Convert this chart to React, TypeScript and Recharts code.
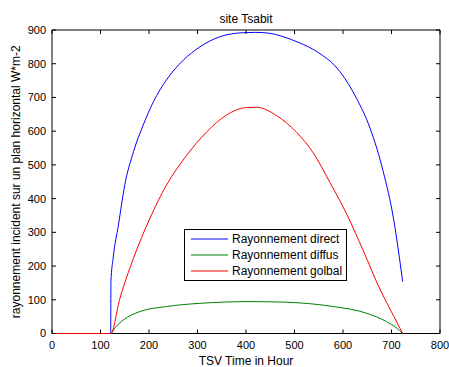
import React from 'react';
import { LineChart, Line, XAxis, YAxis, Legend, Label, ReferenceArea } from 'recharts';

const seriesNames = ['Rayonnement direct', 'Rayonnement diffus', 'Rayonnement golbal'];
const seriesColors = ['#0000ff', '#008000', '#ff0000'];

const directHours = [0, 121, 121.5, 126, 137, 150, 168, 188, 209, 236, 271, 305, 346, 394, 420, 450, 477, 510, 546, 594, 628, 656, 683, 704, 723];
const directValues = [0, 0, 154, 223, 322, 440, 539, 618, 687, 752, 811, 850, 880, 892, 893, 890, 880, 862, 836, 776, 697, 608, 480, 342, 154];

const diffuseHours = [0, 121, 130, 147, 181, 236, 305, 408, 477, 580, 649, 690, 710, 723];
const diffuseValues = [0, 0, 17, 40, 65, 80, 89.5, 94.5, 93, 80, 60, 35, 17, 0];

const globalHours = [0, 121, 140, 168, 202, 236, 278, 319, 360, 401, 422, 463, 504, 539, 573, 608, 642, 676, 690, 704, 723];
const globalValues = [0, 0, 104, 223, 342, 440, 529, 598, 648, 670, 671, 646, 597, 535, 448, 353, 245, 132, 92, 53, 0];

const xTicks = [0, 100, 200, 300, 400, 500, 600, 700, 800];
const yTicks = [0, 100, 200, 300, 400, 500, 600, 700, 800, 900];

const titleText = 'site Tsabit';
const xLabelText = 'TSV Time in Hour';
const yLabelText = 'rayonnement incident sur un plan horizontal W*m-2';

const toRows = (hours: number[], values: number[]) => hours.map((h, i) => ({ h, v: values[i] }));

const FONT = '"Liberation Sans", Arial, Helvetica, sans-serif';
const PLOT_W = 388;
const PLOT_H = 303.5;

const BottomTick = (props: any) => {
  const { x, y, payload } = props;
  return (
    <g>
      <line x1={x} x2={x} y1={y} y2={y - 4} stroke="#000" />
      <line x1={x} x2={x} y1={y - PLOT_H} y2={y - PLOT_H + 4} stroke="#000" />
      <text x={x} y={y + 8} dy="0.71em" textAnchor="middle" fontSize={11} fill="#000">
        {payload.value}
      </text>
    </g>
  );
};

const LeftTick = (props: any) => {
  const { x, y, payload } = props;
  return (
    <g>
      <line x1={x} x2={x + 4} y1={y} y2={y} stroke="#000" />
      <line x1={x + PLOT_W - 4} x2={x + PLOT_W} y1={y} y2={y} stroke="#000" />
      <text x={x - 6} y={y} dy="0.355em" textAnchor="end" fontSize={11} fill="#000">
        {payload.value}
      </text>
    </g>
  );
};

const LegendBox = (props: any) => {
  const payload = [...(props.payload || [])].sort(
    (a: any, b: any) => seriesNames.indexOf(a.value) - seriesNames.indexOf(b.value)
  );
  return (
    <div
      style={{
        boxSizing: 'border-box',
        width: 163,
        height: 52,
        border: '1px solid #000',
        background: '#fff',
        paddingTop: 1,
        fontFamily: FONT,
        fontSize: 12,
        color: '#000',
      }}
    >
      {payload.map((item: any) => (
        <div key={item.value} style={{ display: 'flex', alignItems: 'center', height: 16 }}>
          <svg width={47} height={16} style={{ display: 'block' }}>
            <line x1={6} x2={43} y1={8} y2={8} stroke={item.color} strokeWidth={1} />
          </svg>
          <span style={{ whiteSpace: 'nowrap', lineHeight: '16px' }}>{item.value}</span>
        </div>
      ))}
    </div>
  );
};

export default function App() {
  return (
    <div style={{ fontFamily: FONT, width: 449, height: 367, overflow: 'hidden' }}>
      <style>{'html, body { margin: 0; padding: 0; }'}</style>
      <LineChart width={449} height={367} margin={{ top: 30, right: 9, bottom: 0, left: 8 }}>
        <ReferenceArea
          x1={0}
          x2={800}
          y1={0}
          y2={900}
          fill="none"
          fillOpacity={0}
          stroke="#000"
          strokeWidth={1}
          strokeOpacity={1}
          ifOverflow="visible"
          zIndex={0}
          label={{ value: titleText, position: 'top', offset: 7, fill: '#000', fontSize: 12 }}
        />
        <XAxis
          dataKey="h"
          type="number"
          domain={[0, 800]}
          ticks={xTicks}
          interval={0}
          height={33.5}
          axisLine={false}
          tickLine={false}
          tickSize={0}
          tickMargin={0}
          tick={<BottomTick />}
        >
          <Label value={xLabelText} position="insideBottom" offset={2} style={{ fill: '#000', fontSize: 12 }} />
        </XAxis>
        <YAxis
          type="number"
          domain={[0, 900]}
          ticks={yTicks}
          interval={0}
          width={44}
          axisLine={false}
          tickLine={false}
          tickSize={0}
          tickMargin={0}
          tick={<LeftTick />}
        >
          <Label
            value={yLabelText}
            angle={-90}
            position="insideLeft"
            offset={4}
            dx={4}
            style={{ fill: '#000', fontSize: 12, textAnchor: 'middle' }}
          />
        </YAxis>
        <Legend
          content={<LegendBox />}
          layout="vertical"
          align="center"
          verticalAlign="middle"
          wrapperStyle={{ position: 'absolute', left: 184, top: 229, width: 163, height: 52 }}
        />
        <Line
          data={toRows(directHours, directValues)}
          dataKey="v"
          name={seriesNames[0]}
          stroke={seriesColors[0]}
          strokeWidth={1}
          type="monotone"
          dot={false}
          activeDot={false}
          isAnimationActive={false}
          zIndex={600}
        />
        <Line
          data={toRows(diffuseHours, diffuseValues)}
          dataKey="v"
          name={seriesNames[1]}
          stroke={seriesColors[1]}
          strokeWidth={1}
          type="monotone"
          dot={false}
          activeDot={false}
          isAnimationActive={false}
          zIndex={600}
        />
        <Line
          data={toRows(globalHours, globalValues)}
          dataKey="v"
          name={seriesNames[2]}
          stroke={seriesColors[2]}
          strokeWidth={1}
          type="monotone"
          dot={false}
          activeDot={false}
          isAnimationActive={false}
          zIndex={600}
        />
      </LineChart>
    </div>
  );
}
